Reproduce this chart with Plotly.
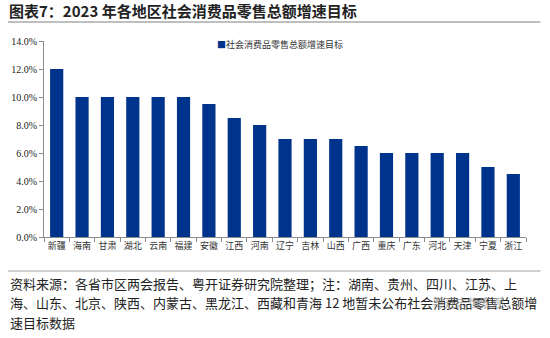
import plotly.graph_objects as go

regions = ["新疆", "海南", "甘肃", "湖北", "云南", "福建", "安徽", "江西", "河南", "辽宁",
           "吉林", "山西", "广西", "重庆", "广东", "河北", "天津", "宁夏", "浙江"]
targets = [0.12, 0.10, 0.10, 0.10, 0.10, 0.10, 0.095, 0.085, 0.08, 0.07,
           0.07, 0.07, 0.065, 0.06, 0.06, 0.06, 0.06, 0.05, 0.045]
y_ticks = [0, 0.02, 0.04, 0.06, 0.08, 0.10, 0.12, 0.14]
series_name = "社会消费品零售总额增速目标"
note_lines = [
    "资料来源：各省市区两会报告、粤开证券研究院整理；注：湖南、贵州、四川、江苏、上",
    "海、山东、北京、陕西、内蒙古、黑龙江、西藏和青海 12 地暂未公布社会消费品零售总额增",
    "速目标数据",
]

CJK = "Noto Sans CJK SC"
NAVY = "#00338C"

fig = go.Figure()
fig.add_trace(go.Bar(
    x=regions, y=targets, name=series_name,
    marker=dict(color=NAVY, line=dict(width=0)),
    width=0.52, showlegend=False,
))

fig.update_layout(
    width=550, height=338,
    margin=dict(l=44, r=24, t=41, b=101),
    paper_bgcolor="white", plot_bgcolor="white",
    showlegend=False,
    xaxis=dict(
        showline=True, linecolor="#8c8c8c", linewidth=1,
        ticks="outside", ticklen=4, tickcolor="#8c8c8c",
        tickson="boundaries", tickangle=0,
        tickfont=dict(family=CJK, size=9, color="#333"),
        range=[-0.5, len(regions) - 0.5],
    ),
    yaxis=dict(
        range=[0, 0.14], tickvals=y_ticks, tickformat=".1%",
        showline=True, linecolor="#8c8c8c", linewidth=1,
        ticks="outside", ticklen=4, tickcolor="#8c8c8c",
        showgrid=False, zeroline=False,
        tickfont=dict(family="Liberation Serif", size=10, color="#222"),
    ),
)

# Legend entry: navy square followed by the series name
fig.add_annotation(
    xref="paper", yref="paper", x=0.355, y=1.0, xanchor="left", yanchor="middle",
    text=f"<span style='color:{NAVY}'>■</span>{series_name}",
    font=dict(family=CJK, size=9, color="#333"), showarrow=False,
    yshift=-3,
)

# Title and its underline
fig.add_annotation(
    xref="paper", yref="paper", x=0, y=1, xanchor="left", yanchor="bottom",
    text="<b>图表7：2023 年各地区社会消费品零售总额增速目标</b>",
    font=dict(family=CJK, size=15, color="#222"), showarrow=False,
    xshift=-37, yshift=18,
)
fig.add_shape(type="line", xref="paper", yref="paper", x0=-0.075, x1=1.03,
              y0=1.097, y1=1.097, line=dict(color="#bfbfbf", width=2))

# Source note, one annotation per line
fig.add_shape(type="line", xref="paper", yref="paper", x0=-0.075, x1=1.03,
              y0=-0.173, y1=-0.173, line=dict(color="#bfbfbf", width=1.5))
for line, ypos in zip(note_lines, [-0.235, -0.333, -0.435]):
    fig.add_annotation(
        xref="paper", yref="paper", x=0, y=ypos, xanchor="left", yanchor="middle",
        text=line, align="left", showarrow=False, xshift=-36,
        font=dict(family=CJK, size=13, color="#222"),
    )

# Account watermark, drawn faintly over the note
fig.add_annotation(
    xref="paper", yref="paper", x=1, y=-0.333, xanchor="right", yanchor="middle",
    text="粤开志恒宏观", showarrow=False, xshift=-20,
    font=dict(family=CJK, size=12, color="rgba(140,140,140,0.75)"),
)

fig.write_html("out.html")
